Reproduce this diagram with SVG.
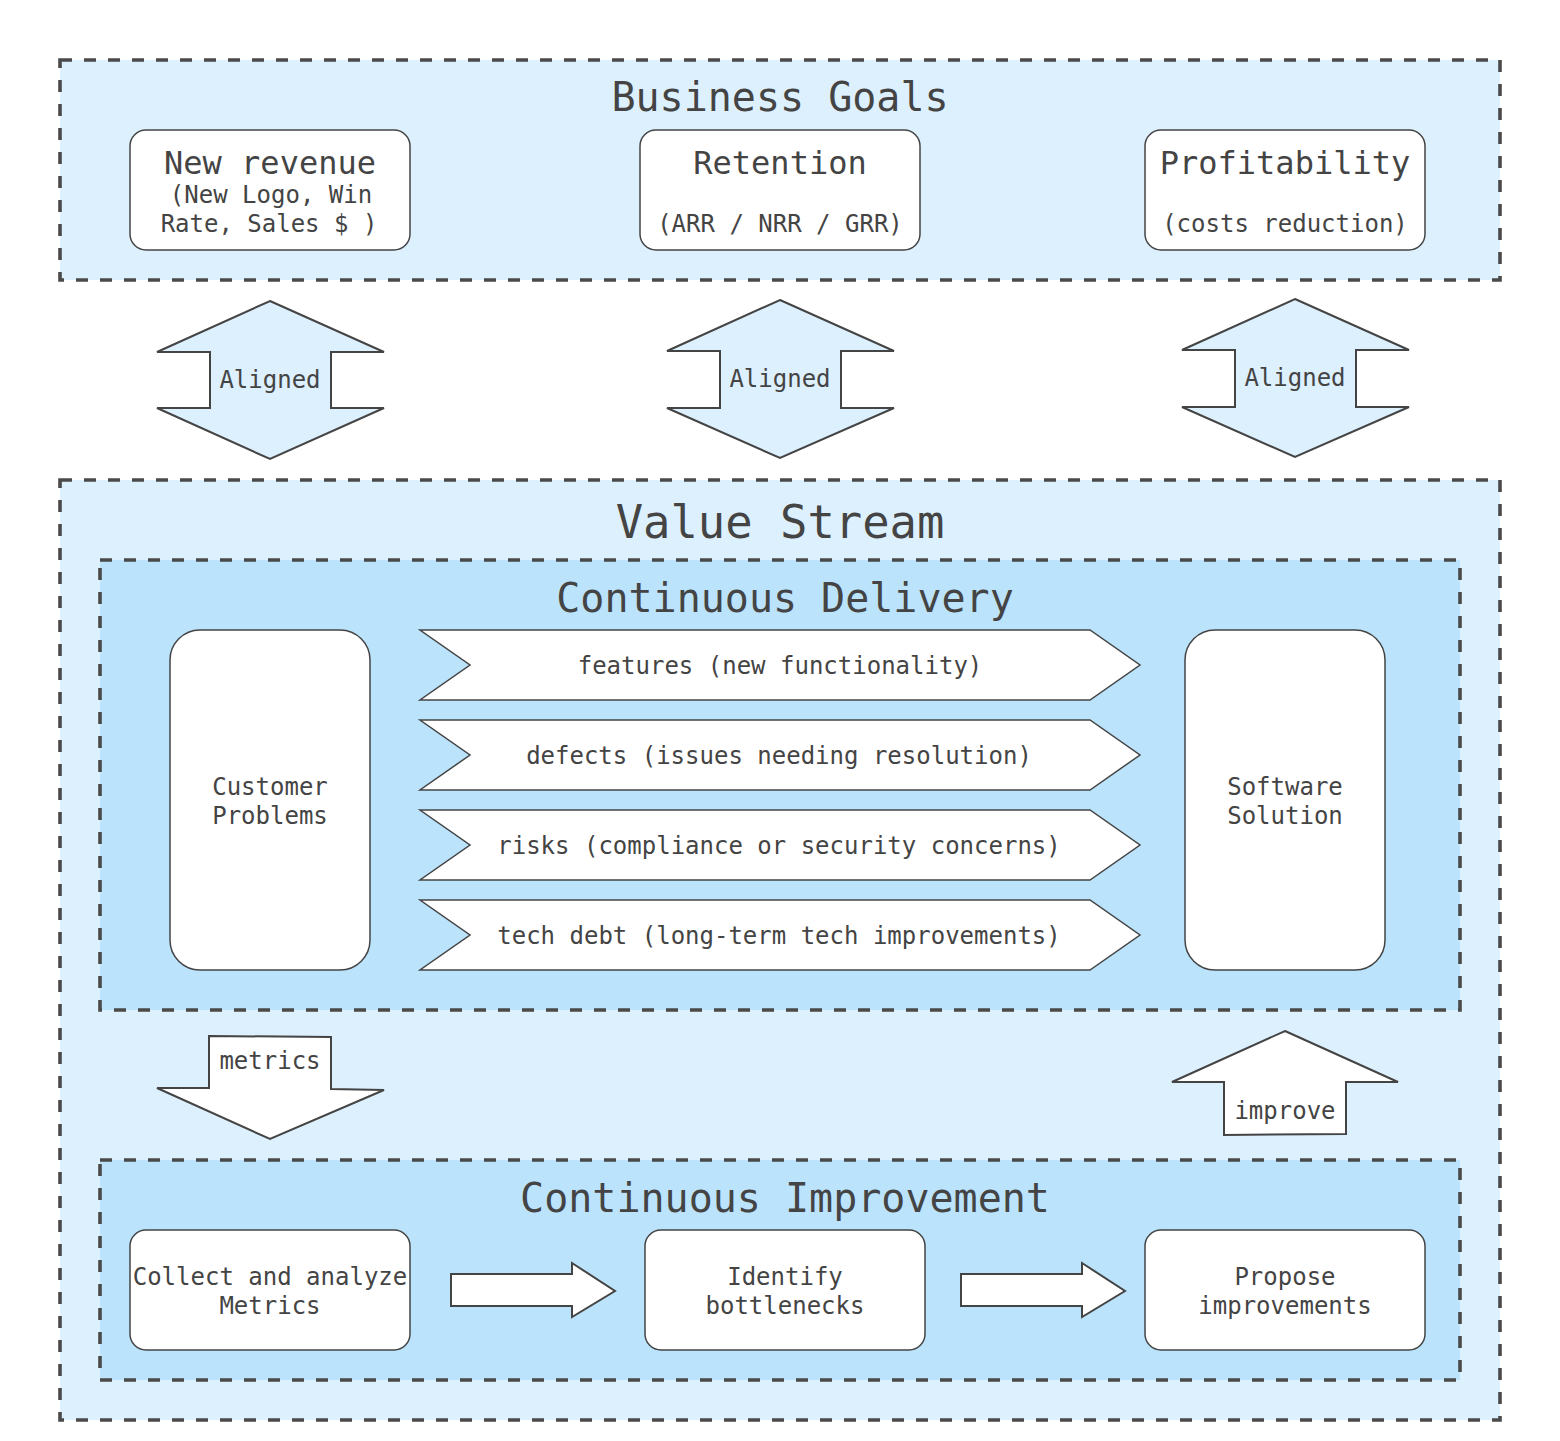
<svg xmlns="http://www.w3.org/2000/svg" width="1560" height="1441" viewBox="0 0 1560 1441">
<style>
  text { font-family: "DejaVu Sans Mono", "Liberation Mono", monospace; fill: #444; text-anchor: middle; }
  .grp { stroke: #4a4a4a; stroke-width: 3.6; stroke-dasharray: 12 12; }
  .outer { fill: #ddf0fe; }
  .inner { fill: #bbe3fc; }
  .box { fill: #fff; stroke: #444; stroke-width: 1.5; }
  .arr { stroke: #444; stroke-width: 2; stroke-linejoin: miter; }
  .t40 { font-size: 40px; }
  .t32 { font-size: 32px; }
  .t24 { font-size: 24px; }
</style>
<rect width="1560" height="1441" fill="#fff"/>

<g id="business-goals">
  <rect class="grp outer" x="60" y="60" width="1440" height="220"/>
  <text class="t40" x="780" y="111">Business Goals</text>
</g>
<g id="new-revenue">
  <rect class="box" x="130" y="130" width="280" height="120" rx="16"/>
  <text class="t32" x="270" y="174">New revenue</text>
  <text class="t24" x="271" y="203">(New Logo, Win</text>
  <text class="t24" x="269" y="232">Rate, Sales $ )</text>
</g>
<g id="retention">
  <rect class="box" x="640" y="130" width="280" height="120" rx="16"/>
  <text class="t32" x="780" y="174">Retention</text>
  <text class="t24" x="780" y="232">(ARR / NRR / GRR)</text>
</g>
<g id="profitability">
  <rect class="box" x="1145" y="130" width="280" height="120" rx="16"/>
  <text class="t32" x="1285" y="174">Profitability</text>
  <text class="t24" x="1285" y="232">(costs reduction)</text>
</g>

<g id="value-stream">
  <rect class="grp outer" x="60" y="480" width="1440" height="940"/>
  <text style="font-size:45.5px" x="780" y="538">Value Stream</text>
</g>
<g id="continuous-delivery">
  <rect class="grp inner" x="100" y="560" width="1360" height="450"/>
  <text class="t40" x="785" y="612">Continuous Delivery</text>
</g>
<g id="customer-problems">
  <rect class="box" x="170" y="630" width="200" height="340" rx="30"/>
  <text class="t24" x="270" y="795">Customer</text>
  <text class="t24" x="270" y="824">Problems</text>
</g>
<g id="software-solution">
  <rect class="box" x="1185" y="630" width="200" height="340" rx="30"/>
  <text class="t24" x="1285" y="795">Software</text>
  <text class="t24" x="1285" y="824">Solution</text>
</g>
<g id="features">
  <polygon class="box" points="420,630 1090,630 1140,665 1090,700 420,700 470,665"/>
  <text class="t24" x="780" y="674">features (new functionality)</text>
</g>
<g id="defects">
  <polygon class="box" points="420,720 1090,720 1140,755 1090,790 420,790 470,755"/>
  <text class="t24" x="779" y="764">defects (issues needing resolution)</text>
</g>
<g id="risks">
  <polygon class="box" points="420,810 1090,810 1140,845 1090,880 420,880 470,845"/>
  <text class="t24" x="779" y="854">risks (compliance or security concerns)</text>
</g>
<g id="tech-debt">
  <polygon class="box" points="420,900 1090,900 1140,935 1090,970 420,970 470,935"/>
  <text class="t24" x="779" y="944">tech debt (long-term tech improvements)</text>
</g>

<g id="continuous-improvement">
  <rect class="grp inner" x="100" y="1160" width="1360" height="220"/>
  <text class="t40" x="785" y="1212">Continuous Improvement</text>
</g>
<g id="collect-metrics">
  <rect class="box" x="130" y="1230" width="280" height="120" rx="16"/>
  <text class="t24" x="270" y="1285">Collect and analyze</text>
  <text class="t24" x="270" y="1314">Metrics</text>
</g>
<g id="identify-bottlenecks">
  <rect class="box" x="645" y="1230" width="280" height="120" rx="16"/>
  <text class="t24" x="785" y="1285">Identify</text>
  <text class="t24" x="785" y="1314">bottlenecks</text>
</g>
<g id="propose-improvements">
  <rect class="box" x="1145" y="1230" width="280" height="120" rx="16"/>
  <text class="t24" x="1285" y="1285">Propose</text>
  <text class="t24" x="1285" y="1314">improvements</text>
</g>

<g id="connectors">
  <g id="aligned-1">
    <polygon class="arr" fill="#ddf0fe" points="270,301 384,352 331,352 331,408 384,408 270,459 157,408 210,408 210,352 157,352"/>
    <text class="t24" x="270" y="388">Aligned</text>
  </g>
  <g id="aligned-2">
    <polygon class="arr" fill="#ddf0fe" points="780,300 894,351 841,351 841,408 894,408 780,458 667,408 720,408 720,351 667,351"/>
    <text class="t24" x="780" y="387">Aligned</text>
  </g>
  <g id="aligned-3">
    <polygon class="arr" fill="#ddf0fe" points="1295,299 1409,350 1356,350 1356,407 1409,407 1295,457 1182,407 1235,407 1235,350 1182,350"/>
    <text class="t24" x="1295" y="386">Aligned</text>
  </g>
  <g id="metrics">
    <polygon class="arr" fill="#fff" points="209,1036 331,1037 331,1089 384,1090 270,1139 157,1088 209,1088"/>
    <text class="t24" x="270" y="1069">metrics</text>
  </g>
  <g id="improve">
    <polygon class="arr" fill="#fff" points="1285,1031 1398,1082 1346,1082 1346,1134 1224,1135 1224,1082 1172,1082"/>
    <text class="t24" x="1285" y="1119">improve</text>
  </g>
  <polygon id="arrow-collect-identify" class="arr" fill="#fff" points="451,1274 572,1274 572,1263 615,1291 572,1317 572,1306 451,1306"/>
  <polygon id="arrow-identify-propose" class="arr" fill="#fff" points="961,1274 1082,1274 1082,1263 1125,1291 1082,1317 1082,1306 961,1306"/>
</g>
</svg>
